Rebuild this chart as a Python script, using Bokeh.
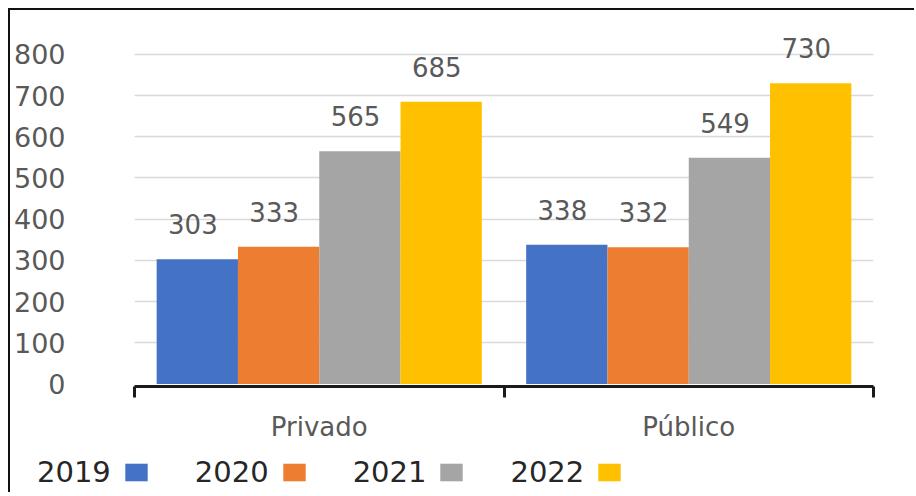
from bokeh.plotting import figure
from bokeh.models import (FactorRange, Range1d, LinearAxis, CategoricalAxis, FixedTicker,
                          ColumnDataSource, LabelSet, Legend, LegendItem, CategoricalTicker)
from bokeh.core.properties import value
from bokeh.transform import dodge
from bokeh.embed import file_html
from bokeh.resources import INLINE

categories = ["Privado", "Público"]
years = ["2019", "2020", "2021", "2022"]
values_2019 = [303, 338]
values_2020 = [333, 332]
values_2021 = [565, 549]
values_2022 = [685, 730]
colors = ["#4472C4", "#ED7D31", "#A5A5A5", "#FFC000"]
y_ticks = [0, 100, 200, 300, 400, 500, 600, 700, 800]

offsets = [-0.33, -0.11, 0.11, 0.33]

p = figure(width=906, height=436, output_backend="svg", toolbar_location=None,
           x_range=FactorRange(factors=categories, range_padding=0),
           y_range=Range1d(-6, 882), x_axis_location=None,
           min_border_left=124, min_border_right=43, min_border_top=10, min_border_bottom=60)
p.styles = {"margin-left": "8px", "margin-top": "8px",
            "border-top": "2px solid #111111", "border-left": "2px solid #111111"}
p.outline_line_color = None
p.background_fill_color = "white"
p.border_fill_color = "white"

src = ColumnDataSource(dict(cat=categories, v2019=values_2019, v2020=values_2020,
                            v2021=values_2021, v2022=values_2022,
                            t2019=[str(v) for v in values_2019], t2020=[str(v) for v in values_2020],
                            t2021=[str(v) for v in values_2021], t2022=[str(v) for v in values_2022]))

for yr, off, col in zip(years, offsets, colors):
    p.vbar(x=dodge("cat", off, range=p.x_range), top="v" + yr, bottom=0, width=0.22,
           source=src, fill_color=col, line_color=None)
    lab = LabelSet(x=dodge("cat", off - 0.012, range=p.x_range), y="v" + yr, text="t" + yr,
                   source=src, y_offset=35, text_align="center", text_baseline="middle",
                   text_font=value("DejaVu Sans"), text_font_size=value("26px"),
                   text_color="#595959")
    p.add_layout(lab)

# y axis
yax = p.yaxis[0]
yax.ticker = FixedTicker(ticks=y_ticks)
yax.axis_line_color = None
yax.major_tick_line_color = None
yax.minor_tick_line_color = None
yax.major_label_standoff = 63
yax.major_label_text_font = "DejaVu Sans"
yax.major_label_text_font_size = "27px"
yax.major_label_text_color = "#595959"

p.xgrid.grid_line_color = None
p.ygrid.ticker = FixedTicker(ticks=y_ticks[1:])
p.ygrid.grid_line_color = "#D9D9D9"
p.ygrid.grid_line_width = 1.5

# bottom axis line with ticks at the category boundaries (synthetic coords 0, 1, 2)
bax = LinearAxis(ticker=FixedTicker(ticks=[0, 1, 2]),
                 major_label_overrides={0: "", 1: "", 2: ""})
bax.axis_line_color = "#1a1a1a"
bax.axis_line_width = 3
bax.major_tick_line_color = "#1a1a1a"
bax.major_tick_line_width = 3
bax.major_tick_in = 0
bax.major_tick_out = 11
bax.minor_tick_line_color = None
bax.major_label_text_font_size = "1px"
bax.major_label_standoff = 0
p.add_layout(bax, "below")

cax = CategoricalAxis(ticker=CategoricalTicker())
cax.axis_line_color = None
cax.major_tick_line_color = None
cax.major_label_standoff = 8
cax.major_label_text_font = "DejaVu Sans"
cax.major_label_text_font_size = "26px"
cax.major_label_text_color = "#595959"
p.add_layout(cax, "below")

# legend strip (separate root so its frame spans the full width): label first, then swatch
leg = figure(width=906, height=48, output_backend="svg", toolbar_location=None,
             x_range=Range1d(0, 1), y_range=Range1d(0, 1),
             x_axis_location=None, y_axis_location=None,
             min_border_left=0, min_border_right=0, min_border_top=0, min_border_bottom=0)
leg.styles = {"margin-left": "8px", "border-left": "2px solid #111111"}
leg.outline_line_color = None
leg.grid.grid_line_color = None
dummy = leg.vbar(x=[0], top=[0], width=0, fill_alpha=0, line_alpha=0, visible=False)
items = []
for yr, col in zip(years, colors):
    sw = leg.vbar(x=[0], top=[0], width=0, fill_color=col, line_color=None, visible=False)
    items.append(LegendItem(label=yr, renderers=[dummy]))
    items.append(LegendItem(label="", renderers=[sw]))
legend = Legend(items=items, orientation="horizontal", location=(-4, 3),
                glyph_width=28, glyph_height=22, label_standoff=3, spacing=11, label_width=0,
                padding=0, margin=0, border_line_color=None, background_fill_alpha=0,
                label_text_font="DejaVu Sans", label_text_font_size="29px",
                label_text_color="#262626")
leg.add_layout(legend, "center")

open("out.html", "w").write(file_html([p, leg], INLINE))
